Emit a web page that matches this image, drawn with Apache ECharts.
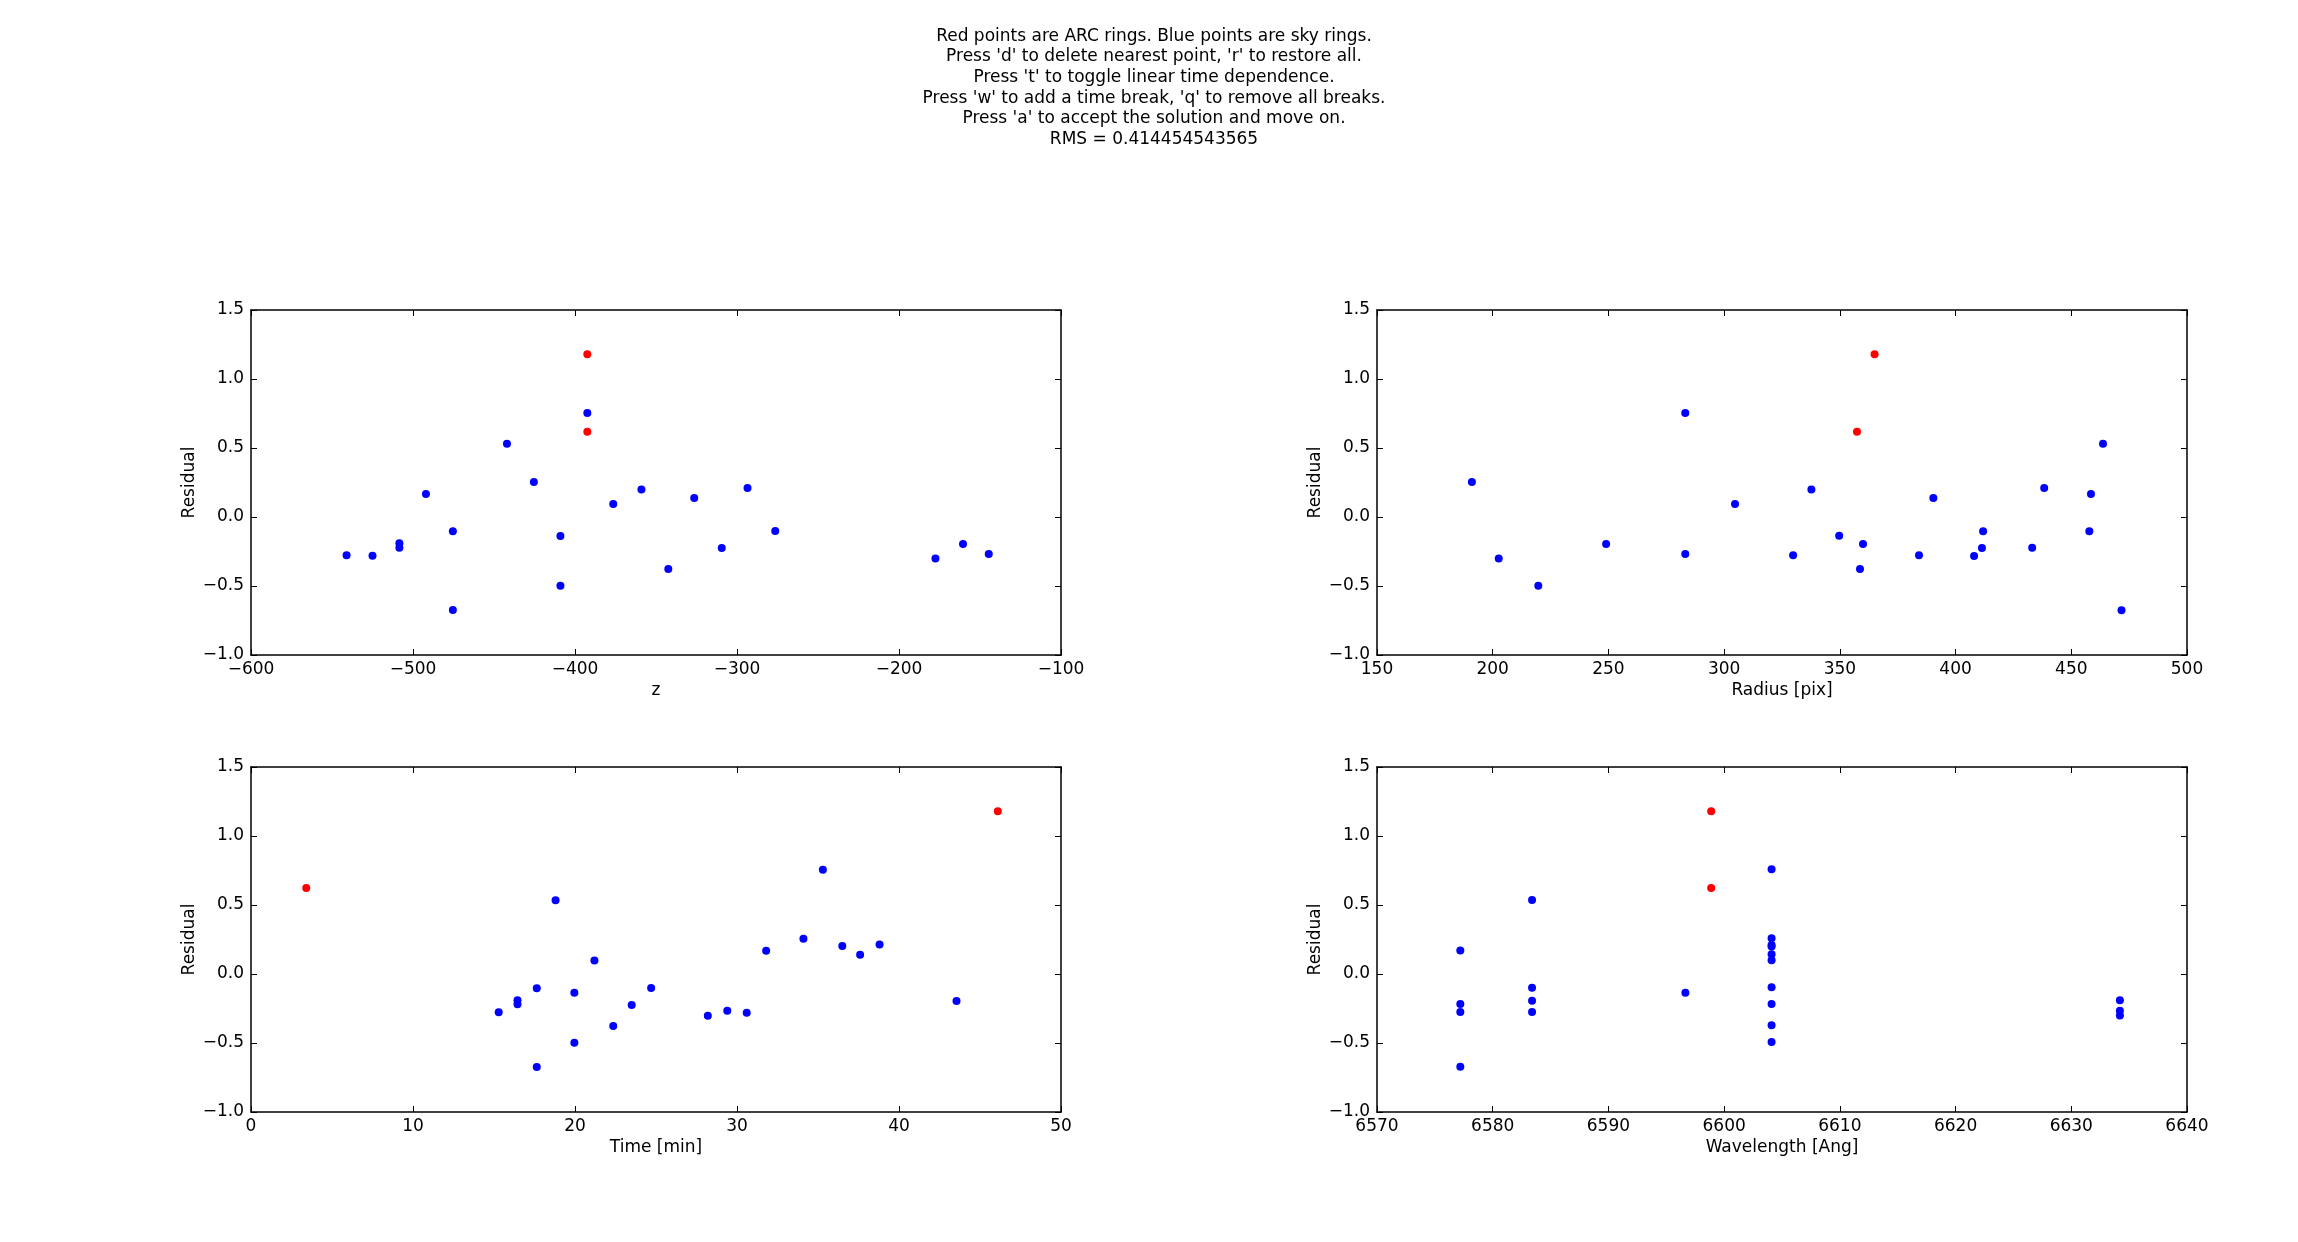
<!DOCTYPE html>
<html>
<head>
<meta charset="utf-8">
<title>Residuals</title>
<script src="https://cdn.jsdelivr.net/npm/echarts@6/dist/echarts.min.js"></script>
<style>
  html, body { margin: 0; padding: 0; background: #fff; }
  #main { width: 2298px; height: 1242px; }
</style>
</head>
<body>
<div id="main"></div>
<script>
// header text
const titleLines = [
  'Red points are ARC rings. Blue points are sky rings.',
  "Press 'd' to delete nearest point, 'r' to restore all.",
  "Press 't' to toggle linear time dependence.",
  "Press 'w' to add a time break, 'q' to remove all breaks.",
  "Press 'a' to accept the solution and move on.",
  'RMS = 0.414454543565'
]

// residual axis, same on all panels: [min, max, interval]
const residualRange = [-1.0, 1.5, 0.5]

// panel 1: residual vs z
const zRange = [-600, -100, 100]
const zBlue = [
  [-541, -0.278], [-525, -0.28], [-508.4, -0.19], [-508.4, -0.222], [-492, 0.167],
  [-475.4, -0.104], [-475.4, -0.674], [-442, 0.531], [-425.4, 0.254], [-409, -0.138],
  [-409, -0.498], [-392.4, 0.754], [-376.4, 0.094], [-359, 0.2], [-342.4, -0.377],
  [-326.4, 0.138], [-309.4, -0.225], [-293.5, 0.21], [-276.4, -0.101], [-177.5, -0.3],
  [-160.5, -0.196], [-144.6, -0.268]
]
const zRed = [[-392.4, 1.179], [-392.4, 0.618]]

// panel 2: residual vs radius
const radiusRange = [150, 500, 50]
const radiusBlue = [
  [191, 0.254], [202.6, -0.3], [219.7, -0.498], [249, -0.196], [283.2, 0.754],
  [283.2, -0.268], [304.7, 0.094], [329.8, -0.278], [337.7, 0.2], [349.7, -0.136],
  [358.7, -0.377], [360, -0.196], [384.2, -0.278], [390.4, 0.138], [408, -0.283],
  [411.4, -0.225], [411.9, -0.104], [433.1, -0.222], [438.3, 0.21], [457.8, -0.104],
  [458.5, 0.167], [463.7, 0.531], [471.7, -0.676]
]
const radiusRed = [[357.4, 0.618], [365, 1.179]]

// panel 3: residual vs time
const timeRange = [0, 50, 10]
const timeBlue = [
  [15.29, -0.278], [16.45, -0.19], [16.45, -0.22], [17.64, -0.104], [17.64, -0.674],
  [18.8, 0.534], [19.96, -0.135], [19.96, -0.498], [21.2, 0.097], [22.36, -0.377],
  [23.5, -0.225], [24.7, -0.101], [28.2, -0.302], [29.4, -0.266], [30.6, -0.28],
  [31.8, 0.169], [34.1, 0.256], [35.3, 0.756], [36.5, 0.203], [37.6, 0.14],
  [38.8, 0.213], [43.55, -0.196]
]
const timeRed = [[3.41, 0.623], [46.1, 1.179]]

// panel 4: residual vs wavelength
const waveRange = [6570, 6640, 10]
const waveBlue = [
  [6577.2, 0.171], [6577.2, -0.217], [6577.2, -0.275], [6577.2, -0.672],
  [6583.4, 0.536], [6583.4, -0.099], [6583.4, -0.193], [6583.4, -0.275],
  [6596.65, -0.135],
  [6604.1, 0.759], [6604.1, 0.259], [6604.1, 0.21], [6604.1, 0.2], [6604.1, 0.143],
  [6604.1, 0.099], [6604.1, -0.096], [6604.1, -0.217], [6604.1, -0.372], [6604.1, -0.493],
  [6634.2, -0.19], [6634.2, -0.266], [6634.2, -0.3]
]
const waveRed = [[6598.88, 1.179], [6598.88, 0.623]]

const panels = [
  { name: 'z', range: zRange, blue: zBlue, red: zRed },
  { name: 'Radius [pix]', range: radiusRange, blue: radiusBlue, red: radiusRed },
  { name: 'Time [min]', range: timeRange, blue: timeBlue, red: timeRed },
  { name: 'Wavelength [Ang]', range: waveRange, blue: waveBlue, red: waveRed }
]

// layout of the 4 axes boxes
const boxes = [[251, 310], [1377, 310], [251, 767], [1377, 767]]
const boxW = 810
const boxH = 345

const font = 'DejaVu Sans'
const minus = v => (v < 0 ? '\u2212' : '') + Math.abs(v)
const minus1 = v => (v < 0 ? '\u2212' : '') + Math.abs(v).toFixed(1)

const frameLine = { show: true, onZero: false, lineStyle: { color: '#000', width: 1.5 } }
const innerTick = { show: true, inside: true, length: 6, lineStyle: { color: '#000', width: 1 } }

const grid = []
const xAxis = []
const yAxis = []
const series = []

panels.forEach((p, i) => {
  grid.push({ left: boxes[i][0], top: boxes[i][1], width: boxW, height: boxH, show: false })
  // bottom + top x axes
  xAxis.push({
    type: 'value', gridIndex: i, position: 'bottom',
    min: p.range[0], max: p.range[1], interval: p.range[2],
    axisLine: frameLine, axisTick: innerTick, splitLine: { show: false },
    axisLabel: { margin: 6, fontFamily: font, fontSize: 17, color: '#000', formatter: minus },
    name: p.name, nameLocation: 'middle', nameGap: 27,
    nameTextStyle: { fontFamily: font, fontSize: 17, color: '#000' }
  })
  xAxis.push({
    type: 'value', gridIndex: i, position: 'top',
    min: p.range[0], max: p.range[1], interval: p.range[2],
    axisLine: frameLine, axisTick: innerTick, splitLine: { show: false },
    axisLabel: { show: false }
  })
  // left + right y axes
  yAxis.push({
    type: 'value', gridIndex: i, position: 'left',
    min: residualRange[0], max: residualRange[1], interval: residualRange[2],
    axisLine: frameLine, axisTick: innerTick, splitLine: { show: false },
    axisLabel: { margin: 7, fontFamily: font, fontSize: 17, color: '#000', formatter: minus1 },
    name: 'Residual', nameLocation: 'middle', nameGap: 53,
    nameTextStyle: { fontFamily: font, fontSize: 17, color: '#000' }
  })
  yAxis.push({
    type: 'value', gridIndex: i, position: 'right',
    min: residualRange[0], max: residualRange[1], interval: residualRange[2],
    axisLine: frameLine, axisTick: innerTick, splitLine: { show: false },
    axisLabel: { show: false }
  })
  // points
  series.push({
    type: 'scatter', xAxisIndex: 2 * i, yAxisIndex: 2 * i,
    data: p.blue, symbolSize: 8, itemStyle: { color: '#0000ff', opacity: 1 }, silent: true
  })
  series.push({
    type: 'scatter', xAxisIndex: 2 * i, yAxisIndex: 2 * i,
    data: p.red, symbolSize: 8, itemStyle: { color: '#ff0000', opacity: 1 }, silent: true
  })
})

const myChart = echarts.init(document.querySelector('#main'))
const option = {
  backgroundColor: '#fff',
  animation: false,
  title: {
    text: titleLines.join('\n'),
    left: 1149, // figure centre, text centred on it
    top: 21,
    textAlign: 'center',
    textStyle: { fontFamily: font, fontSize: 17, fontWeight: 'normal', color: '#000', lineHeight: 20.6 }
  },
  grid,
  xAxis,
  yAxis,
  series
}
myChart.setOption(option)
</script>
</body>
</html>
